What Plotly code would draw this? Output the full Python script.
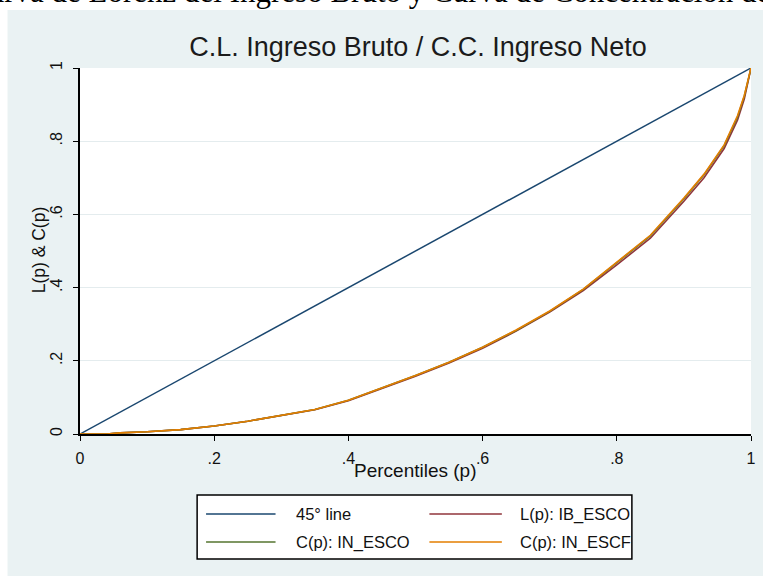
import plotly.graph_objects as go

# ---------------- data ----------------
p_vals = [0.0, 0.04, 0.06, 0.10, 0.15, 0.20, 0.25, 0.30, 0.35, 0.40, 0.45, 0.50,
          0.55, 0.60, 0.65, 0.70, 0.75, 0.80, 0.85, 0.90, 0.93, 0.96, 0.98, 0.99, 1.0]
line45 = [0.0, 1.0]
L_ib_esco = [0.0, 0.0, 0.003, 0.006, 0.012, 0.022, 0.035, 0.051, 0.066, 0.091, 0.124, 0.158,
             0.194, 0.234, 0.281, 0.333, 0.392, 0.462, 0.535, 0.636, 0.700, 0.780, 0.858, 0.915, 1.0]
C_in_esco = [0.0, 0.0, 0.003, 0.006, 0.012, 0.022, 0.035, 0.052, 0.067, 0.092, 0.125, 0.160,
             0.196, 0.237, 0.283, 0.335, 0.395, 0.468, 0.541, 0.643, 0.708, 0.788, 0.866, 0.923, 1.0]
C_in_escf = [0.0, 0.0, 0.003, 0.006, 0.012, 0.022, 0.035, 0.052, 0.067, 0.092, 0.125, 0.160,
             0.196, 0.237, 0.284, 0.336, 0.396, 0.470, 0.543, 0.645, 0.710, 0.790, 0.870, 0.925, 1.0]

tick_vals = [0, 0.2, 0.4, 0.6, 0.8, 1]
tick_text = ["0", ".2", ".4", ".6", ".8", "1"]

series_names = ["45° line", "L(p): IB_ESCO", "C(p): IN_ESCO", "C(p): IN_ESCF"]
series_colors = ["#1a476f", "#90353b", "#55752f", "#e37e00"]

# ---------------- figure geometry ----------------
W, H = 763, 576
L_PX, R_PX, T_PX, B_PX = 80, 756, 68, 434


def px_x(px):
    return (px - L_PX) / (R_PX - L_PX)


def px_y(py):
    return (B_PX - py) / (B_PX - T_PX)


FONT = "Liberation Sans, Arial, sans-serif"
PANEL = "#eaf2f3"

fig = go.Figure()
fig.add_trace(go.Scatter(x=[0, 1], y=line45, mode="lines", name=series_names[0],
                         line=dict(color=series_colors[0], width=1.5), showlegend=False))
fig.add_trace(go.Scatter(x=p_vals, y=L_ib_esco, mode="lines", name=series_names[1],
                         line=dict(color=series_colors[1], width=1.6), showlegend=False))
fig.add_trace(go.Scatter(x=p_vals, y=C_in_esco, mode="lines", name=series_names[2],
                         line=dict(color=series_colors[2], width=1.6), showlegend=False))
fig.add_trace(go.Scatter(x=p_vals, y=C_in_escf, mode="lines", name=series_names[3],
                         line=dict(color=series_colors[3], width=1.6), showlegend=False))

shapes = [
    # white strips outside the Stata panel
    dict(type="rect", xref="paper", yref="paper", x0=px_x(-5), x1=px_x(W + 5),
         y0=px_y(10), y1=px_y(-5), fillcolor="white", line=dict(width=0), layer="below"),
    dict(type="rect", xref="paper", yref="paper", x0=px_x(-5), x1=px_x(7),
         y0=px_y(H + 5), y1=px_y(-5), fillcolor="white", line=dict(width=0), layer="below"),
    # legend box
    dict(type="rect", xref="paper", yref="paper", x0=px_x(198), x1=px_x(636),
         y0=px_y(559), y1=px_y(495), fillcolor="white", line=dict(color="black", width=1.5)),
]
annotations = []
legend_pos = [(207, 277, 296, 514), (432, 505, 521, 514), (207, 277, 296, 542), (432, 505, 521, 542)]
for name, col, (lx0, lx1, tx, ly) in zip(series_names, series_colors, legend_pos):
    shapes.append(dict(type="line", xref="paper", yref="paper", x0=px_x(lx0), x1=px_x(lx1),
                       y0=px_y(ly), y1=px_y(ly), line=dict(color=col, width=1.6)))
    annotations.append(dict(text=name, xref="paper", yref="paper", x=px_x(tx), y=px_y(ly),
                            xanchor="left", yanchor="middle", showarrow=False,
                            font=dict(family=FONT, size=16.5, color="#111")))

# axis titles
annotations.append(dict(text="Percentiles (p)", xref="paper", yref="paper", x=px_x(418), y=px_y(470),
                        xanchor="center", yanchor="middle", showarrow=False,
                        font=dict(family=FONT, size=19, color="#111")))
annotations.append(dict(text="L(p) & C(p)", xref="paper", yref="paper", x=px_x(39), y=px_y(250),
                        xanchor="center", yanchor="middle", showarrow=False, textangle=-90,
                        font=dict(family=FONT, size=17.5, color="#111")))

# cropped document caption on top (partially cut off, as in the source)
annotations.append(dict(text="Curva de Lorenz del Ingreso Bruto y Curva de Concentración del Ingreso Neto",
                        xref="paper", yref="paper", x=px_x(-35), y=px_y(-9),
                        xanchor="left", yanchor="middle", showarrow=False,
                        font=dict(family="Liberation Serif, serif", size=31, color="black")))

fig.update_layout(
    width=W, height=H,
    margin=dict(l=L_PX, r=W - R_PX, t=T_PX, b=H - B_PX, pad=0),
    paper_bgcolor=PANEL, plot_bgcolor="white",
    font=dict(family=FONT, size=16, color="#111"),
    title=dict(text="C.L. Ingreso Bruto / C.C. Ingreso Neto", x=0.5 * (L_PX + R_PX) / W, xanchor="center",
               y=1 - 47 / H, yanchor="middle", yref="container",
               font=dict(family=FONT, size=27, color="#1b1b1b")),
    showlegend=False,
    shapes=shapes,
    annotations=annotations,
)
fig.update_xaxes(range=[0, 1], tickvals=tick_vals, ticktext=tick_text, ticks="outside", ticklen=5,
                 tickwidth=1.3, tickcolor="black", showline=True, linecolor="black", linewidth=1.5,
                 showgrid=False, zeroline=False, ticklabelstandoff=4)
fig.update_yaxes(range=[0, 1], tickvals=tick_vals, ticktext=tick_text, ticks="outside", ticklen=5,
                 tickwidth=1.3, tickcolor="black", showline=True, linecolor="black", linewidth=1.5,
                 showgrid=True, gridcolor="#e4ecee", gridwidth=1.3, zeroline=False, tickangle=-90,
                 ticklabelstandoff=5)

fig.write_html("out.html", config={"displayModeBar": False},
               post_script="document.body.style.margin='0';")
